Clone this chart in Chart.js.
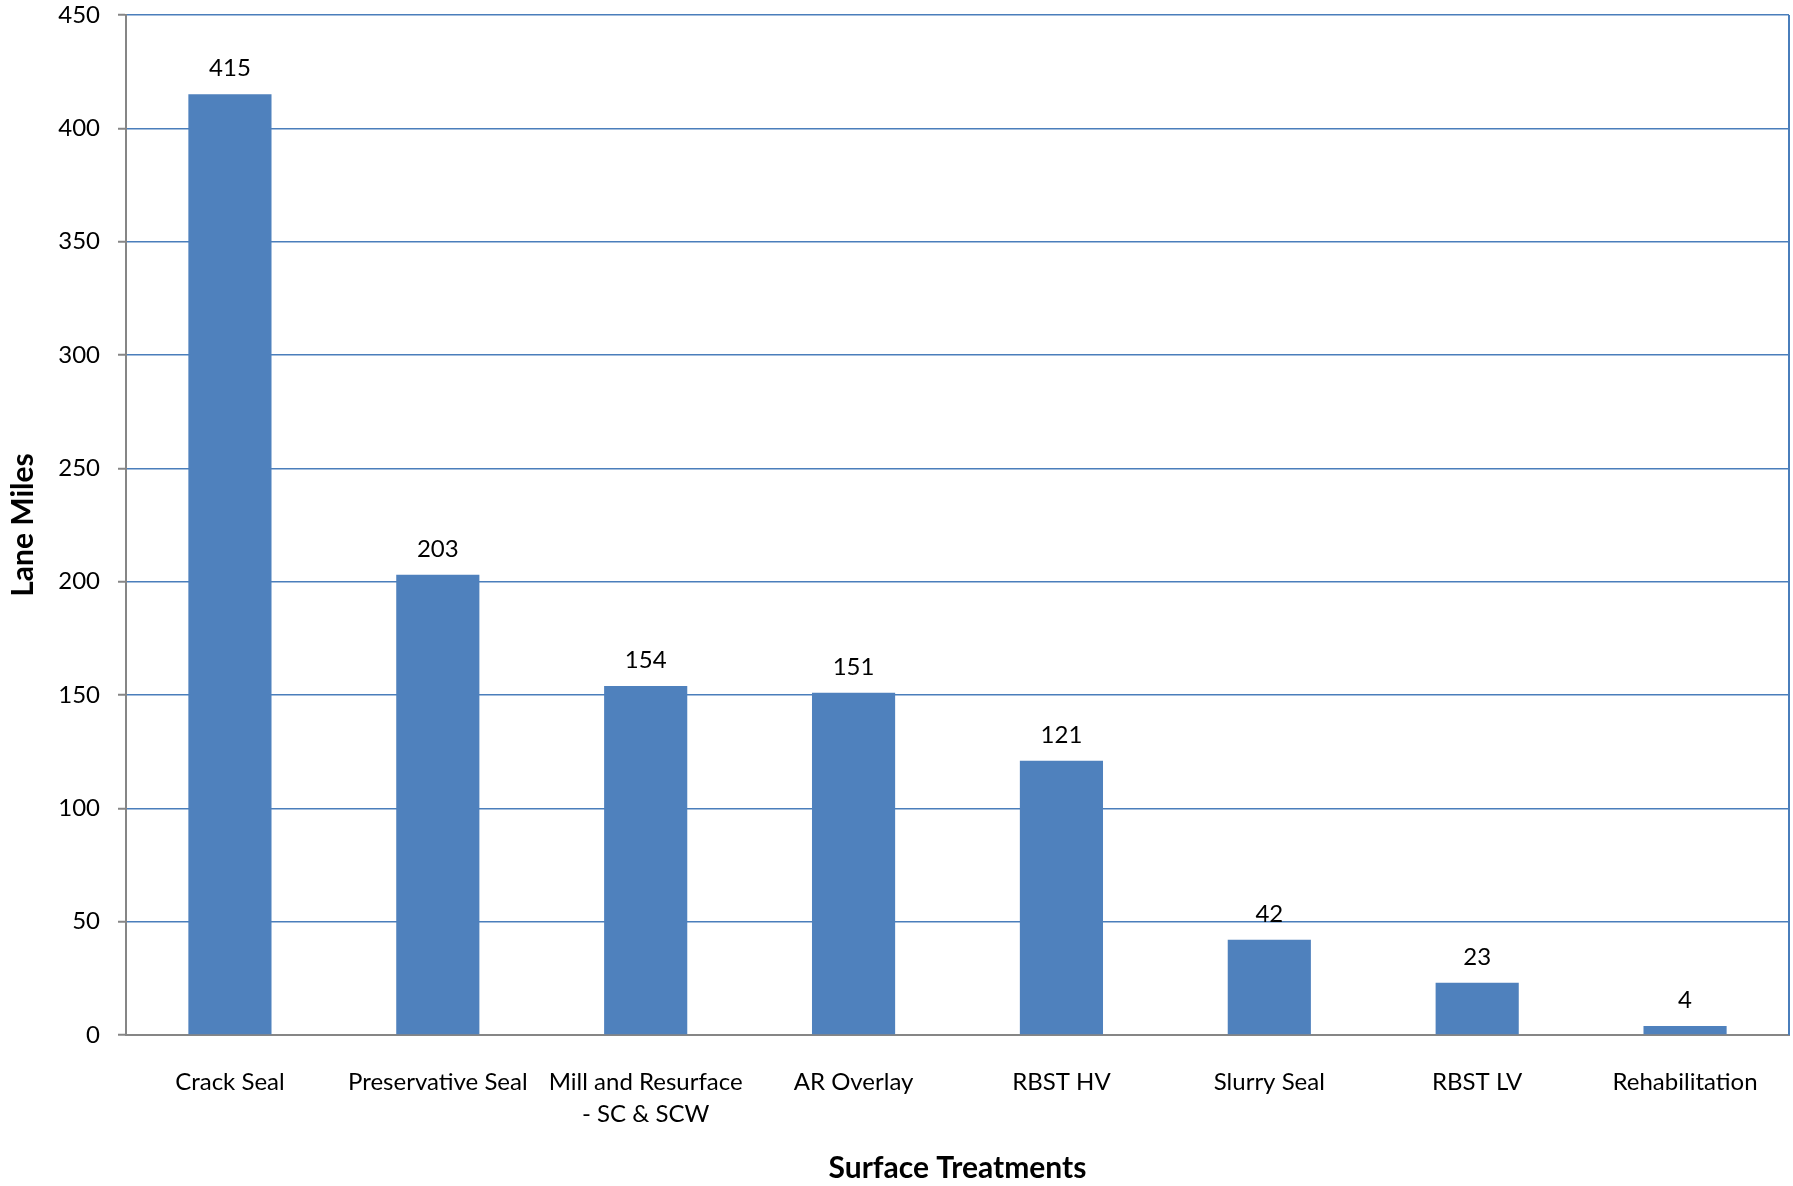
<!DOCTYPE html>
<html>
<head>
<meta charset="utf-8">
<script src="https://cdn.jsdelivr.net/npm/chart.js@4.4.0/dist/chart.umd.min.js"></script>
<style>
  html, body { margin: 0; padding: 0; background: #ffffff; }
  canvas { display: block; }
</style>
</head>
<body>
<canvas id="chart" width="1793" height="1186"></canvas>
<script>
// Lane miles treated, by surface treatment type
const categories = [
  'Crack Seal',
  'Preservative Seal',
  ['Mill and Resurface', '- SC & SCW'],
  'AR Overlay',
  'RBST HV',
  'Slurry Seal',
  'RBST LV',
  'Rehabilitation'
];
const laneMiles = [415, 203, 154, 151, 121, 42, 23, 4];
const yTicks = [0, 50, 100, 150, 200, 250, 300, 350, 400, 450];

const FONT = 'Lato, "Open Sans", sans-serif';
const BAR = '#4f81bd';
const GRID = '#4a7ebb';
const AXIS = '#868686';

// value printed above each bar
const valueLabels = {
  id: 'valueLabels',
  afterDatasetsDraw(chart) {
    const ctx = chart.ctx;
    const meta = chart.getDatasetMeta(0);
    ctx.save();
    ctx.font = '24px ' + FONT;
    ctx.fillStyle = '#000000';
    ctx.textAlign = 'center';
    ctx.textBaseline = 'alphabetic';
    meta.data.forEach((bar, i) => {
      ctx.fillText(String(chart.data.datasets[0].data[i]), bar.x, bar.y - 18);
    });
    ctx.restore();
  }
};

// blue frame line on the right side of the plot area
const rightFrame = {
  id: 'rightFrame',
  beforeDatasetsDraw(chart) {
    const {ctx, chartArea} = chart;
    ctx.save();
    ctx.strokeStyle = GRID;
    ctx.lineWidth = 2;
    ctx.beginPath();
    ctx.moveTo(chartArea.right, chartArea.top);
    ctx.lineTo(chartArea.right, chartArea.bottom);
    ctx.stroke();
    ctx.restore();
  }
};

new Chart(document.getElementById('chart'), {
  type: 'bar',
  data: {
    labels: categories,
    datasets: [{
      data: laneMiles,
      backgroundColor: BAR,
      borderWidth: 0,
      categoryPercentage: 1.0,
      barPercentage: 0.4
    }]
  },
  options: {
    responsive: false,
    animation: false,
    devicePixelRatio: 1,
    layout: { padding: { top: 15, right: 4, left: 0, bottom: 0 } },
    plugins: {
      legend: { display: false },
      tooltip: { enabled: false }
    },
    scales: {
      x: {
        grid: { display: false, drawTicks: false },
        border: { display: true, color: AXIS, width: 2 },
        ticks: {
          color: '#000000',
          font: { family: FONT, size: 24, lineHeight: 1.33 },
          padding: 31,
          maxRotation: 0,
          autoSkip: false
        },
        title: {
          display: true,
          text: 'Surface Treatments',
          color: '#000000',
          font: { family: FONT, size: 30, weight: 'bold', lineHeight: 1.2 },
          padding: { top: 0, bottom: 0 }
        },
        afterFit(scale) { scale.height = 151; }
      },
      y: {
        min: 0,
        max: 450,
        afterBuildTicks(scale) { scale.ticks = yTicks.map(v => ({ value: v })); },
        grid: {
          color: ctx => (ctx.tick && ctx.tick.value === 0 ? AXIS : GRID),
          lineWidth: 1.5,
          drawTicks: true,
          tickLength: 8,
          tickColor: AXIS,
          tickWidth: 2
        },
        border: { display: true, color: AXIS, width: 2 },
        ticks: {
          color: '#000000',
          font: { family: FONT, size: 24 },
          padding: 18
        },
        title: {
          display: true,
          text: 'Lane Miles',
          color: '#000000',
          font: { family: FONT, size: 30, weight: 'bold', lineHeight: 1.2 },
          padding: { top: 5, bottom: 0 }
        },
        afterFit(scale) {
          scale.width = 126;
          scale.paddingTop = 0;
          scale.paddingBottom = 0;
        }
      }
    }
  },
  plugins: [valueLabels, rightFrame]
});
</script>
</body>
</html>
